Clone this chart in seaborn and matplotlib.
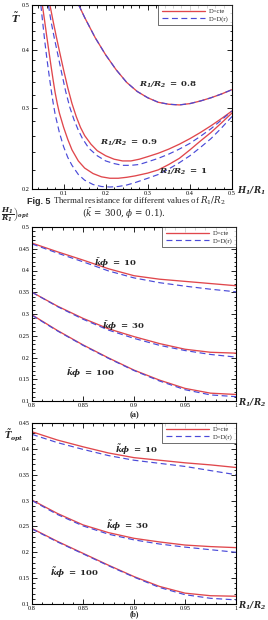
import numpy as np
import pandas as pd
import matplotlib
matplotlib.use("Agg")
import matplotlib.pyplot as plt
import seaborn as sns
from matplotlib.ticker import FixedLocator, MultipleLocator, NullFormatter, FixedFormatter

sns.set_theme(style="ticks")
plt.rcParams['font.family'] = ['Liberation Serif', 'DejaVu Serif']
plt.rcParams['mathtext.fontset'] = 'custom'
plt.rcParams['mathtext.rm'] = 'DejaVu Serif'
plt.rcParams['mathtext.it'] = 'DejaVu Serif:italic'
plt.rcParams['mathtext.bf'] = 'DejaVu Serif:bold:italic'
plt.rcParams['mathtext.sf'] = 'DejaVu Serif:bold'

RED = '#e0474c'
BLUE = '#4a4ad8'

# ---------------- Fig. 5 data: T~ vs H1/R1 ----------------
h_08 = [0.136, 0.15, 0.175, 0.2, 0.225, 0.25, 0.275, 0.3, 0.325, 0.35, 0.375, 0.4, 0.425, 0.45, 0.475, 0.5]
t_08_cte = [0.500, 0.470, 0.425, 0.390, 0.362, 0.340, 0.325, 0.315, 0.308, 0.305, 0.304, 0.306, 0.310, 0.315, 0.321, 0.328]
t_08_dr = [0.500, 0.470, 0.425, 0.390, 0.362, 0.340, 0.325, 0.315, 0.308, 0.305, 0.304, 0.306, 0.310, 0.315, 0.321, 0.328]

h_09 = [0.0676, 0.075, 0.0825, 0.09, 0.10, 0.11, 0.12, 0.13, 0.14, 0.15, 0.165, 0.18, 0.2, 0.22, 0.24, 0.26,
        0.28, 0.3, 0.325, 0.35, 0.375, 0.4, 0.425, 0.45, 0.475, 0.5]
t_09_cte = [0.500, 0.462, 0.428, 0.398, 0.362, 0.331, 0.306, 0.287, 0.272, 0.261, 0.250, 0.242, 0.236, 0.232,
            0.230, 0.230, 0.232, 0.235, 0.239, 0.244, 0.250, 0.257, 0.265, 0.274, 0.284, 0.295]
h_09d = [0.064, 0.07, 0.078, 0.086, 0.095, 0.105, 0.115, 0.125, 0.135, 0.145, 0.16, 0.18, 0.2, 0.22, 0.24, 0.26,
         0.28, 0.3, 0.325, 0.35, 0.375, 0.4, 0.425, 0.45, 0.475, 0.5]
t_09_dr = [0.500, 0.462, 0.424, 0.392, 0.358, 0.325, 0.300, 0.282, 0.268, 0.257, 0.245, 0.236, 0.230, 0.227,
           0.225, 0.225, 0.226, 0.229, 0.233, 0.238, 0.244, 0.251, 0.260, 0.270, 0.282, 0.295]

h_10 = [0.0496, 0.055, 0.06, 0.065, 0.07, 0.075, 0.08, 0.085, 0.09, 0.10, 0.11, 0.12, 0.135, 0.15, 0.17, 0.19,
        0.21, 0.23, 0.25, 0.27, 0.3, 0.325, 0.35, 0.375, 0.4, 0.425, 0.45, 0.475, 0.5]
t_10_cte = [0.500, 0.462, 0.428, 0.398, 0.370, 0.345, 0.323, 0.306, 0.292, 0.272, 0.256, 0.243, 0.230, 0.222,
            0.216, 0.2125, 0.211, 0.211, 0.212, 0.2135, 0.2165, 0.220, 0.226, 0.233, 0.243, 0.254, 0.265, 0.278, 0.292]
h_10d = [0.046, 0.05, 0.055, 0.06, 0.065, 0.07, 0.075, 0.08, 0.09, 0.10, 0.11, 0.12, 0.135, 0.15, 0.17, 0.19,
         0.21, 0.23, 0.25, 0.27, 0.3, 0.325, 0.35, 0.375, 0.4, 0.425, 0.45, 0.475, 0.5]
t_10_dr = [0.500, 0.462, 0.420, 0.385, 0.356, 0.330, 0.308, 0.290, 0.265, 0.247, 0.234, 0.225, 0.215, 0.209,
           0.2045, 0.2025, 0.202, 0.2025, 0.204, 0.2065, 0.211, 0.215, 0.221, 0.228, 0.236, 0.246, 0.257, 0.271, 0.287]

# ---------------- (a) (H1/R1)opt vs R1/R2 ----------------
r12 = [0.80, 0.825, 0.85, 0.875, 0.90, 0.925, 0.95, 0.975, 1.00]
hopt_10_cte = [0.463, 0.443, 0.424, 0.404, 0.388, 0.380, 0.375, 0.370, 0.365]
hopt_10_dr = [0.461, 0.440, 0.420, 0.399, 0.383, 0.372, 0.364, 0.357, 0.351]
hopt_30_cte = [0.350, 0.318, 0.290, 0.266, 0.248, 0.232, 0.219, 0.212, 0.210]
hopt_30_dr = [0.350, 0.317, 0.288, 0.263, 0.244, 0.228, 0.216, 0.207, 0.201]
hopt_100_cte = [0.298, 0.262, 0.229, 0.199, 0.171, 0.148, 0.129, 0.118, 0.115]
hopt_100_dr = [0.297, 0.261, 0.228, 0.198, 0.170, 0.146, 0.126, 0.114, 0.110]

# ---------------- (b) T~opt vs R1/R2 ----------------
topt_10_cte = [0.433, 0.417, 0.404, 0.392, 0.383, 0.378, 0.373, 0.369, 0.364]
topt_10_dr = [0.428, 0.412, 0.399, 0.387, 0.378, 0.372, 0.366, 0.358, 0.350]
topt_30_cte = [0.301, 0.275, 0.253, 0.238, 0.227, 0.220, 0.214, 0.211, 0.209]
topt_30_dr = [0.300, 0.273, 0.251, 0.235, 0.224, 0.216, 0.210, 0.205, 0.200]
topt_100_cte = [0.246, 0.221, 0.198, 0.175, 0.153, 0.134, 0.121, 0.116, 0.115]
topt_100_dr = [0.245, 0.220, 0.197, 0.174, 0.152, 0.132, 0.118, 0.111, 0.108]

W, H = 268, 620
fig = plt.figure(figsize=(W / 100, H / 100), dpi=100)


def add_ax(l, r, t, b):
    return fig.add_axes([l / W, 1 - b / H, (r - l) / W, (b - t) / H])


def style(ax):
    ax.tick_params(which='both', direction='in', top=True, right=True,
                   labelsize=4.5, pad=1.5, width=0.6, colors='black')
    ax.tick_params(which='major', length=3.5)
    ax.tick_params(which='minor', length=1.8)
    for s in ax.spines.values():
        s.set_linewidth(0.8)
        s.set_color('black')
    ax.set_xlabel('')
    ax.set_ylabel('')


def draw(ax, x, y, kind):
    df = pd.DataFrame({'x': x, 'y': y})
    if kind == 'cte':
        sns.lineplot(data=df, x='x', y='y', ax=ax, color=RED, lw=0.95, sort=False,
                     label='D=cte', legend=False)
    else:
        sns.lineplot(data=df, x='x', y='y', ax=ax, color=BLUE, lw=0.85, sort=False,
                     label='D=D(r)', legend=False, linestyle=(0, (5, 3)))


def legend(ax):
    h, lab = ax.get_legend_handles_labels()
    leg = ax.legend(h[:2], lab[:2], loc='upper right', fontsize=4.8, frameon=True,
                    fancybox=False, borderaxespad=0.0, handlelength=6.5,
                    borderpad=0.5, labelspacing=0.3, handletextpad=0.6)
    leg.get_frame().set_edgecolor('black')
    leg.get_frame().set_linewidth(0.5)


lbl = dict(fontsize=6.1, ha='center', va='center')

# ---------- top panel ----------
ax1 = add_ax(32, 232, 5, 189)
draw(ax1, h_08, t_08_cte, 'cte')
draw(ax1, h_08, t_08_dr, 'dr')
draw(ax1, h_09, t_09_cte, 'cte')
draw(ax1, h_09d, t_09_dr, 'dr')
draw(ax1, h_10, t_10_cte, 'cte')
draw(ax1, h_10d, t_10_dr, 'dr')
ax1.set_yscale('log')
ax1.set_xlim(0.025, 0.5)
ax1.set_ylim(0.2, 0.5)
style(ax1)
ax1.xaxis.set_major_locator(FixedLocator([0.1, 0.2, 0.3, 0.4, 0.5]))
ax1.xaxis.set_major_formatter(FixedFormatter(['0.1', '0.2', '0.3', '0.4', '0.5']))
ax1.xaxis.set_minor_locator(MultipleLocator(0.02))
ax1.yaxis.set_major_locator(FixedLocator([0.2, 0.3, 0.4, 0.5]))
ax1.yaxis.set_major_formatter(FixedFormatter(['0.2', '0.3', '0.4', '0.5']))
ax1.yaxis.set_minor_locator(FixedLocator([0.22, 0.24, 0.26, 0.28, 0.32, 0.34, 0.36, 0.38, 0.42, 0.44, 0.46, 0.48]))
ax1.yaxis.set_minor_formatter(NullFormatter())
legend(ax1)
ax1.text(0.348, 0.336, r'$\mathbf{R_1/R_2}\mathsf{\ =\ 0.8}$', **lbl)
ax1.text(0.255, 0.251, r'$\mathbf{R_1/R_2}\mathsf{\ =\ 0.9}$', **lbl)
ax1.text(0.384, 0.218, r'$\mathbf{R_1/R_2}\mathsf{\ =\ 1}$', **lbl)
fig.text(16 / W, 1 - 18 / H, r'$\mathbf{\tilde{T}}$', fontsize=7, ha='center', va='center')
fig.text(251 / W, 1 - 191 / H, r'$\mathbf{H_1/R_1}$', fontsize=6.2, ha='center', va='center')
fig.text(27 / W, 1 - 201 / H, 'Fig. 5', fontsize=6.5, ha='left', va='center',
         family='Liberation Sans', weight='bold')
fig.text(53 / W, 1 - 201 / H, r'Thermal resistance for different values of $R_1/R_2$',
         fontsize=6.3, ha='left', va='center')
fig.text(124 / W, 1 - 214 / H, r'$(\bar{k}\,=\,300,\phi\,=\,0.1).$', fontsize=6.3,
         ha='center', va='center')

# ---------- middle panel (a) ----------
ax2 = add_ax(32, 236, 227, 401)
for yc, yd in [(hopt_10_cte, hopt_10_dr), (hopt_30_cte, hopt_30_dr), (hopt_100_cte, hopt_100_dr)]:
    draw(ax2, r12, yc, 'cte')
    draw(ax2, r12, yd, 'dr')
ax2.set_xlim(0.8, 1.0)
ax2.set_ylim(0.1, 0.5)
style(ax2)
ax2.xaxis.set_major_locator(FixedLocator([0.8, 0.85, 0.9, 0.95, 1.0]))
ax2.xaxis.set_major_formatter(FixedFormatter(['0.8', '0.85', '0.9', '0.95', '1']))
ax2.xaxis.set_minor_locator(MultipleLocator(0.01))
ax2.yaxis.set_major_locator(FixedLocator([0.1, 0.15, 0.2, 0.25, 0.3, 0.35, 0.4, 0.45, 0.5]))
ax2.yaxis.set_major_formatter(FixedFormatter(['0.1', '0.15', '0.2', '0.25', '0.3', '0.35', '0.4', '0.45', '0.5']))
ax2.yaxis.set_minor_locator(MultipleLocator(0.01))
legend(ax2)
ax2.text(0.882, 0.417, r'$\mathbf{\bar{k}\phi}\mathsf{\ =\ 10}$', **lbl)
ax2.text(0.890, 0.272, r'$\mathbf{\bar{k}\phi}\mathsf{\ =\ 30}$', **lbl)
ax2.text(0.857, 0.164, r'$\mathbf{\bar{k}\phi}\mathsf{\ =\ 100}$', **lbl)
fig.text(1.0 / W, 1 - 215 / H, r'$\left.\mathbf{\dfrac{H_1}{R_1}}\right)_{\mathbf{opt}}$',
         fontsize=5.4, ha='left', va='center')
fig.text(252 / W, 1 - 403 / H, r'$\mathbf{R_1/R_2}$', fontsize=6.2, ha='center', va='center')
fig.text(134 / W, 1 - 415 / H, '(a)', fontsize=6.0, ha='center', va='center', weight='bold')

# ---------- bottom panel (b) ----------
ax3 = add_ax(32, 236, 423, 604)
for yc, yd in [(topt_10_cte, topt_10_dr), (topt_30_cte, topt_30_dr), (topt_100_cte, topt_100_dr)]:
    draw(ax3, r12, yc, 'cte')
    draw(ax3, r12, yd, 'dr')
ax3.set_xlim(0.8, 1.0)
ax3.set_ylim(0.1, 0.45)
style(ax3)
ax3.xaxis.set_major_locator(FixedLocator([0.8, 0.85, 0.9, 0.95, 1.0]))
ax3.xaxis.set_major_formatter(FixedFormatter(['0.8', '0.85', '0.9', '0.95', '1']))
ax3.xaxis.set_minor_locator(MultipleLocator(0.01))
ax3.yaxis.set_major_locator(FixedLocator([0.1, 0.15, 0.2, 0.25, 0.3, 0.35, 0.4, 0.45]))
ax3.yaxis.set_major_formatter(FixedFormatter(['0.1', '0.15', '0.2', '0.25', '0.3', '0.35', '0.4', '0.45']))
ax3.yaxis.set_minor_locator(MultipleLocator(0.01))
legend(ax3)
ax3.text(0.902, 0.398, r'$\mathbf{\tilde{k}\phi}\mathsf{\ =\ 10}$', **lbl)
ax3.text(0.894, 0.251, r'$\mathbf{\tilde{k}\phi}\mathsf{\ =\ 30}$', **lbl)
ax3.text(0.842, 0.160, r'$\mathbf{\tilde{k}\phi}\mathsf{\ =\ 100}$', **lbl)
fig.text(14 / W, 1 - 436 / H, r'$\mathbf{\tilde{T}_{opt}}$', fontsize=6.3, ha='center', va='center')
fig.text(252 / W, 1 - 606 / H, r'$\mathbf{R_1/R_2}$', fontsize=6.2, ha='center', va='center')
fig.text(134 / W, 1 - 614 / H, '(b)', fontsize=5.5, ha='center', va='center', weight='bold')

fig.savefig('out.png', dpi=100, facecolor='white')
